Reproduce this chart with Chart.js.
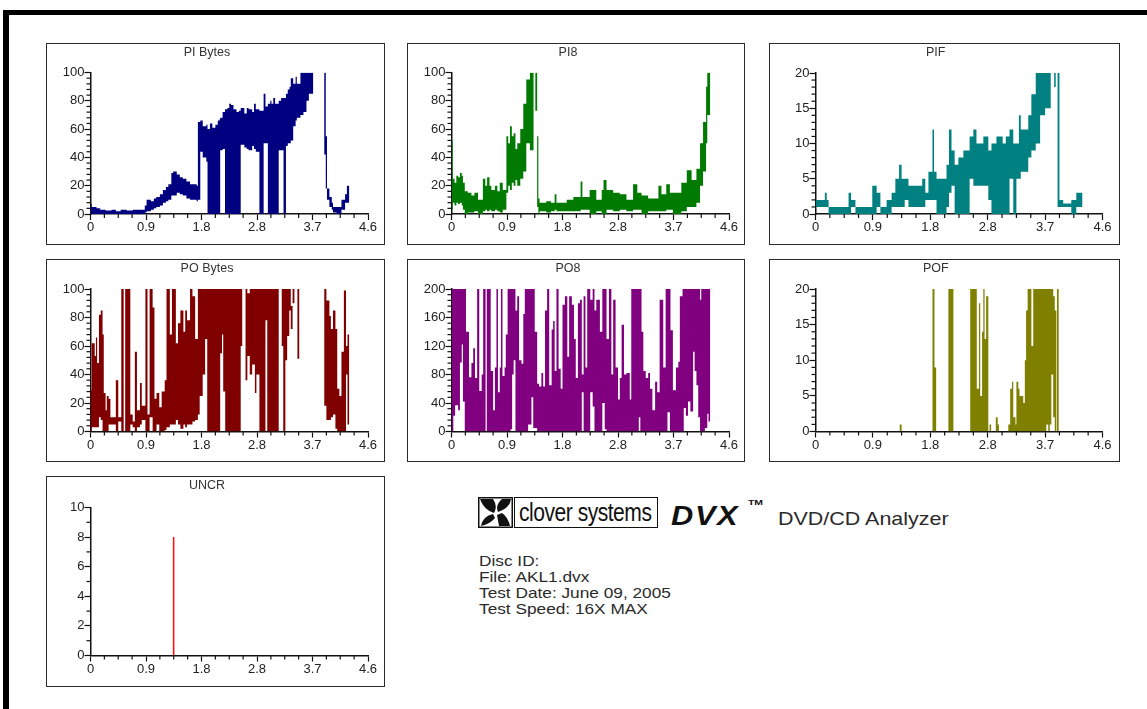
<!DOCTYPE html>
<html><head><meta charset="utf-8">
<script src="https://cdn.jsdelivr.net/npm/chart.js@4"></script>
<style>
html,body{margin:0;padding:0;background:#fff;overflow:hidden}
#page{position:relative;width:1147px;height:709px;background:#fff;filter:blur(.45px);font-family:"Liberation Sans",Arial,sans-serif;color:#222}
#frameTop{position:absolute;left:3px;top:10px;width:1144px;height:5px;background:#000}
#frameLeft{position:absolute;left:3px;top:10px;width:6px;height:699px;background:#000}
.box{position:absolute;box-sizing:border-box;border:1.8px solid #2a2a2a}
canvas{position:absolute}
.t{position:absolute;white-space:nowrap;transform-origin:0 50%}
</style></head><body>
<div id="page">
<div id="frameTop"></div><div id="frameLeft"></div>
<svg class="t" style="left:478px;top:497px" width="35" height="31" viewBox="0 0 35 31">
<rect x=".75" y=".75" width="33.5" height="29.5" fill="#fff" stroke="#111" stroke-width="1.5"/>
<path d="M2 2 L15 2 Q20 9 16 16 Q6 13 2 2Z M3 29 Q5 19 15 17 L17 21 Q12 27 3 29Z M33 2 Q32 11 20 15 Q17 8 24 2Z M19 18 L24 16 Q30 20 32 29 L21 29Z" fill="#111"/>
</svg>
<div class="t" style="left:514px;top:497px;width:142px;height:29px;border:1.5px solid #111;box-sizing:content-box"></div>
<div class="t" style="left:519px;top:496px;font:26px/32px 'Liberation Sans';color:#111;letter-spacing:-.6px;transform:scaleX(.81)">clover systems</div>
<div class="t" style="left:671px;top:499px;font:italic bold 28px/34px 'Liberation Sans';color:#111;letter-spacing:1.5px;transform:scaleX(1.1)">DVX</div>
<div class="t" style="left:748px;top:497px;font:bold 8px/12px 'Liberation Sans';color:#111;transform:scaleX(1.3)">TM</div>
<div class="t" style="left:778px;top:508px;font:19px/22px 'Liberation Sans';color:#2a2a2a;transform:scaleX(1.13)">DVD/CD Analyzer</div>
<div class="t" style="left:479px;top:553px;font:14.5px/16px 'Liberation Sans';color:#2a2a2a;transform:scaleX(1.19)">Disc ID:<br>File: AKL1.dvx<br>Test Date: June 09, 2005<br>Test Speed: 16X MAX</div>
</div>
<script>
// Each row: [x where the column range starts, lowest value, highest value]
const piBytes=[[0,0,7],[.02,0,5],[.1,0,4],[.16,0,3],[.25,0,2.5],[.35,0,3],[.42,0,2],[.5,0,3],[.6,0,2.5],[.7,0,3],[.8,0,3],[.9,1,6],[.93,2,10],[1.0,3,9],[1.05,4,11],[1.09,5,12],[1.15,6,14],[1.2,8,17],[1.25,9,19],[1.29,10,21],[1.34,13,29],[1.37,13,30],[1.43,15,28],[1.48,14,26],[1.53,13,25],[1.59,11,23],[1.65,10,21],[1.76,9,20],[1.78,10,65],[1.82,44,66],[1.86,40,62],[1.92,37,63],[1.94,0,60],[1.98,0,64],[2.02,0,61],[2.07,0,63],[2.11,0,66],[2.14,0,67],[2.15,45,68],[2.19,46,72],[2.23,0,74],[2.27,0,75],[2.3,0,78],[2.33,0,77],[2.37,0,74],[2.42,0,72],[2.46,0,73],[2.49,49,75],[2.55,47,71],[2.59,46,75],[2.62,45,74],[2.68,48,72],[2.71,46,78],[2.74,44,74],[2.8,0,73],[2.87,50,85],[2.9,50,76],[2.94,0,78],[2.98,0,80],[3.0,0,78],[3.03,0,82],[3.06,0,78],[3.12,45,80],[3.16,45,82],[3.2,0,82],[3.24,48,85],[3.27,50,88],[3.3,50,90],[3.32,52,96],[3.36,62,92],[3.4,66,97],[3.42,68,92],[3.48,70,100],[3.53,72,100],[3.58,80,100],[3.62,85,100],[3.69,0,0],[3.875,42,100],[3.9,18,55],[3.92,10,18],[3.96,5,12],[4.0,3,8],[4.02,1,5],[4.08,0,5],[4.16,3,10],[4.22,8,14],[4.25,8,20],[4.29,0,0]];
const pi8=[[0,3,52],[.02,8,25],[.05,6,22],[.08,8,27],[.11,7,26],[.14,8,29],[.17,6,27],[.19,3,22],[.22,0,16],[.27,1,15],[.33,1,13],[.38,2,15],[.44,0,10],[.52,2,25],[.56,3,20],[.59,2,26],[.63,3,20],[.66,2,17],[.72,3,20],[.76,2,16],[.8,1,22],[.85,3,17],[.91,15,55],[.94,20,50],[.97,17,62],[1.0,22,55],[1.03,20,57],[1.06,24,46],[1.09,20,50],[1.14,25,60],[1.19,30,78],[1.24,50,95],[1.3,45,100],[1.36,0,0],[1.39,73,100],[1.42,5,55],[1.44,0,11],[1.46,2,8],[1.57,1,9],[1.65,2,8],[1.71,3,14],[1.74,2,8],[1.91,2,10],[2.02,2,12],[2.14,3,23],[2.17,3,12],[2.29,0,17],[2.4,2,10],[2.49,0,17],[2.52,0,24],[2.57,3,17],[2.68,2,15],[2.79,3,14],[2.9,2,10],[3.01,3,21],[3.08,3,15],[3.15,0,13],[3.26,2,11],[3.43,2,20],[3.48,2,14],[3.56,3,21],[3.62,3,15],[3.67,0,15],[3.81,2,22],[3.9,5,31],[3.98,5,24],[4.06,8,32],[4.12,20,50],[4.17,30,65],[4.22,50,90],[4.24,70,100],[4.29,0,0]];
const pif=[[0,1,2],[.15,1,3],[.18,1,2],[.21,0,1],[.53,0,3],[.57,1,2],[.64,0,1],[.91,0,4],[.98,1,3],[1.04,0,1],[1.14,0,2],[1.22,1,3],[1.28,1,5],[1.34,1,7],[1.38,1,5],[1.43,2,5],[1.49,1,4],[1.71,1,5],[1.76,2,3],[1.81,2,6],[1.875,2,12],[1.9,2,6],[1.94,0,5],[2.02,0,5],[2.1,1,7],[2.14,3,12],[2.18,4,9],[2.23,0,7],[2.29,0,8],[2.37,0,9],[2.47,5,11],[2.53,4,12],[2.58,4,10],[2.69,4,11],[2.77,2,9],[2.82,0,10],[2.9,0,11],[3.0,0,10],[3.05,0,11],[3.11,5,12],[3.17,0,10],[3.22,5,10],[3.26,5,14],[3.29,6,12],[3.41,8,14],[3.46,9,17],[3.53,10,20],[3.6,14,20],[3.68,15,20],[3.77,0,0],[3.825,18,20],[3.85,0,0],[3.88,1,20],[3.91,1,2],[3.97,1,1.5],[4.1,0,2],[4.18,1,3],[4.28,0,0]];
const poBytes=[[0,0,29],[.02,3,62],[.07,3,53],[.09,3,66],[.11,3,48],[.14,10,82],[.17,8,85],[.2,0,68],[.22,0,27],[.25,0,15],[.27,0,25],[.3,5,23],[.33,5,10],[.42,0,36],[.46,7,10],[.51,0,100],[.55,0,0],[.575,0,100],[.66,5,12],[.7,3,7],[.735,0,56],[.77,3,15],[.82,5,34],[.85,8,18],[.91,0,100],[.945,0,12],[.98,10,100],[1.03,0,87],[1.06,0,23],[1.095,5,27],[1.14,0,17],[1.18,0,28],[1.23,1,36],[1.26,3,100],[1.315,5,68],[1.35,5,100],[1.415,8,62],[1.45,5,76],[1.49,2,85],[1.54,5,70],[1.57,3,85],[1.6,5,78],[1.65,5,100],[1.69,7,95],[1.735,8,65],[1.78,12,100],[1.81,25,100],[1.86,40,100],[1.9,65,100],[1.935,0,100],[2.15,55,100],[2.18,68,100],[2.2,28,100],[2.233,0,100],[2.49,60,100],[2.515,0,0],[2.57,36,100],[2.6,53,97],[2.64,40,100],[2.68,47,100],[2.725,27,100],[2.75,40,100],[2.8,0,100],[2.9,78,100],[2.93,0,100],[3.12,0,0],[3.17,60,100],[3.195,0,100],[3.23,50,100],[3.26,67,100],[3.295,85,100],[3.32,72,88],[3.35,90,100],[3.38,0,0],[3.43,51,100],[3.46,0,0],[3.875,18,100],[3.91,8,92],[3.96,8,81],[3.985,10,72],[4.02,12,85],[4.06,2,72],[4.09,0,30],[4.125,0,25],[4.16,0,56],[4.2,0,99],[4.235,40,60],[4.26,5,68],[4.29,0,0]];
const po8=[[0,0,200],[.03,22,200],[.06,37,200],[.11,30,200],[.14,97,200],[.17,122,200],[.19,42,200],[.22,0,200],[.24,0,140],[.29,0,76],[.33,0,96],[.36,0,117],[.39,0,75],[.425,0,200],[.46,0,57],[.5,0,80],[.525,0,200],[.565,0,0],[.585,0,200],[.65,0,85],[.69,0,30],[.72,0,90],[.745,0,200],[.77,0,55],[.8,0,90],[.82,0,200],[.845,0,78],[.88,0,90],[.9,0,136],[.93,0,200],[.98,3,200],[1.005,80,200],[1.03,100,200],[1.06,0,170],[1.09,0,190],[1.12,0,100],[1.16,0,95],[1.19,0,165],[1.215,0,200],[1.27,10,200],[1.325,48,200],[1.355,5,200],[1.38,5,140],[1.42,0,67],[1.45,0,63],[1.49,0,82],[1.52,0,63],[1.55,0,170],[1.585,0,200],[1.62,0,65],[1.66,0,143],[1.685,0,155],[1.71,0,85],[1.74,0,200],[1.775,0,88],[1.81,0,60],[1.84,0,178],[1.88,0,190],[1.92,0,105],[1.95,0,190],[1.995,0,178],[2.03,0,130],[2.06,0,75],[2.095,0,180],[2.13,0,185],[2.16,55,80],[2.19,0,190],[2.22,0,90],[2.25,0,200],[2.3,55,185],[2.34,35,200],[2.37,0,170],[2.4,0,185],[2.46,0,140],[2.5,40,200],[2.54,3,200],[2.57,0,130],[2.61,0,200],[2.65,0,80],[2.68,0,185],[2.72,0,90],[2.76,0,45],[2.79,0,75],[2.82,0,150],[2.86,0,80],[2.9,0,82],[2.955,0,45],[2.98,0,200],[3.105,20,200],[3.13,0,200],[3.15,0,140],[3.18,0,85],[3.22,0,75],[3.26,0,82],[3.29,0,60],[3.33,0,30],[3.375,0,70],[3.41,0,55],[3.45,0,185],[3.51,0,90],[3.55,0,200],[3.58,27,200],[3.62,0,200],[3.63,0,142],[3.67,0,58],[3.72,0,90],[3.76,0,98],[3.785,0,190],[3.83,0,200],[3.85,33,200],[3.885,22,200],[3.92,42,200],[3.96,28,200],[4.005,112,200],[4.03,85,200],[4.06,65,200],[4.09,20,200],[4.12,0,185],[4.14,0,200],[4.2,5,200],[4.24,25,200],[4.26,14,200],[4.29,0,0]];
const pof=[[0,0,0],[1.35,0,1],[1.38,0,0],[1.875,0,20],[1.907,0,9],[1.934,0,0],[2.13,0,20],[2.21,0,0],[2.48,0,20],[2.585,0,6],[2.62,0,18],[2.64,0,5],[2.67,0,14],[2.69,0,20],[2.71,0,13],[2.735,0,19],[2.77,0,0],[2.79,0,1],[2.815,0,0],[2.89,0,2],[2.92,0,1],[2.94,0,0],[3.09,0,1],[3.12,0,6],[3.15,0,7],[3.17,0,2],[3.205,0,1],[3.22,0,7],[3.25,0,6],[3.27,0,5],[3.33,0,4],[3.355,0,10],[3.375,0,17],[3.4,0,20],[3.46,0,12],[3.49,0,20],[3.7,1,20],[3.73,0,20],[3.755,1,20],[3.78,8,20],[3.81,2,19],[3.835,0,17],[3.86,0,0],[3.87,0,20],[3.9,0,0]];
const uncr=[[0,0,0],[1.365,0,8],[1.395,0,0]];

const xMax=4.6, xStep=.23, xEvery=4;

const panels=[
 {title:'PI Bytes',rows:piBytes,color:'#000080',yMax:100,yStep:4,yEvery:5,box:[46,43,339,202],plot:[90.5,72.5,368,214]},
 {title:'PI8',rows:pi8,color:'#007a00',yMax:100,yStep:4,yEvery:5,box:[407,43,338,202],plot:[451.5,72.5,729,214]},
 {title:'PIF',rows:pif,color:'#008080',yMax:20,yStep:1,yEvery:5,box:[769,43,351,202],plot:[815.5,73,1102.5,214]},
 {title:'PO Bytes',rows:poBytes,color:'#800000',yMax:100,yStep:4,yEvery:5,box:[46,259,339,203],plot:[90.5,289,368,431.5]},
 {title:'PO8',rows:po8,color:'#800080',yMax:200,yStep:8,yEvery:5,box:[407,259,338,203],plot:[451.5,289,729,431.5]},
 {title:'POF',rows:pof,color:'#808000',yMax:20,yStep:1,yEvery:5,box:[769,259,351,203],plot:[815.5,289,1102.5,431.5]},
 {title:'UNCR',rows:uncr,color:'#ff1010',yMax:10,yStep:1,yEvery:2,box:[46,476,339,211],plot:[90.5,507.5,368,655.5]}
];

const minorTicks={id:'minorTicks',afterDraw(chart){
  const c=chart.ctx;c.save();c.strokeStyle='#111';c.lineWidth=1.2;
  const a=chart.chartArea;
  chart.scales.x.ticks.forEach(t=>{
    if(Math.round(t.value/xStep)%xEvery===0)return;
    const p=chart.scales.x.getPixelForValue(t.value);
    c.beginPath();c.moveTo(p,a.bottom);c.lineTo(p,a.bottom+4);c.stroke();});
  const o=chart.options.yMeta;
  chart.scales.y.ticks.forEach(t=>{
    if(Math.round(t.value/o.step)%o.every===0)return;
    const p=chart.scales.y.getPixelForValue(t.value);
    c.beginPath();c.moveTo(a.left,p);c.lineTo(a.left-4,p);c.stroke();});
  c.restore();
}};

const page=document.getElementById('page');
panels.forEach(P=>{
  const [bx,by,bw,bh]=P.box,[pl,pt,pr,pb]=P.plot;
  const box=document.createElement('div');box.className='box';
  box.style.cssText=`left:${bx}px;top:${by}px;width:${bw}px;height:${bh}px`;
  page.appendChild(box);
  const cv=document.createElement('canvas');
  cv.width=bw;cv.height=bh;cv.style.cssText=`left:${bx}px;top:${by}px;width:${bw}px;height:${bh}px`;
  page.appendChild(cv);
  const fontT={family:'"Liberation Sans"',size:12.5,lineHeight:1,weight:'normal'};
  const fontL={family:'"Liberation Sans"',size:13};
  const titleBottom=(pt-by)-3-12.5;
  new Chart(cv,{
    type:'line',
    data:{datasets:[
      {label:P.title+' min',data:P.rows.map(r=>({x:r[0],y:r[1]})),stepped:true,pointRadius:0,borderWidth:0,fill:false},
      {label:P.title,data:P.rows.map(r=>({x:r[0],y:r[2]})),stepped:true,pointRadius:0,borderWidth:0,fill:'-1',backgroundColor:P.color,borderColor:P.color}
    ]},
    plugins:[minorTicks],
    options:{
      responsive:false,animation:false,devicePixelRatio:1,
      yMeta:{step:P.yStep,every:P.yEvery},
      layout:{padding:{left:0,top:0,right:bx+bw-pr,bottom:0}},
      plugins:{legend:{display:false},tooltip:{enabled:false},
        title:{display:true,text:P.title,color:'#333',font:fontT,padding:{top:3,bottom:titleBottom}}},
      scales:{
        x:{type:'linear',min:0,max:xMax,
          afterFit:s=>{s.height=by+bh-pb;},
          border:{color:'#111',width:1.5},
          grid:{drawOnChartArea:false,tickLength:6,tickWidth:1.2,
            tickColor:c=>Math.round(c.tick.value/xStep)%xEvery===0?'#111':'rgba(0,0,0,0)'},
          ticks:{stepSize:xStep,autoSkip:false,maxRotation:0,padding:0,color:'#222',font:fontL,
            callback:v=>{const i=Math.round(v/xStep);return i%xEvery?'':(i===0?'0':(i*xStep).toFixed(1));}}},
        y:{min:0,max:P.yMax,
          afterFit:s=>{s.width=pl-bx;},
          border:{color:'#111',width:1.5},
          grid:{drawOnChartArea:false,tickLength:6,tickWidth:1.2,
            tickColor:c=>Math.round(c.tick.value/P.yStep)%P.yEvery===0?'#111':'rgba(0,0,0,0)'},
          ticks:{stepSize:P.yStep,autoSkip:false,padding:0,color:'#222',font:fontL,
            callback:v=>Math.round(v/P.yStep)%P.yEvery?'':String(v)}}
      }
    }
  });
});
</script>
</body></html>
